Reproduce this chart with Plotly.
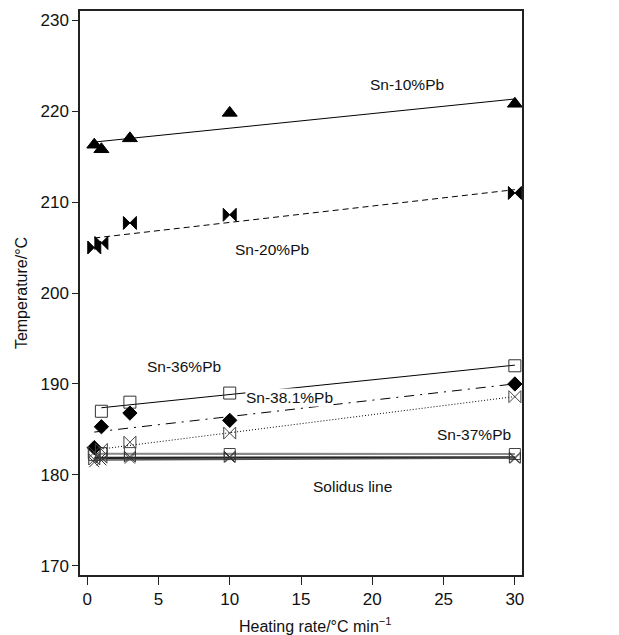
import numpy as np
import plotly.graph_objects as go

# Heating rates (°C/min)
rates = [0.5, 1, 3, 10, 30]

# Liquidus temperatures (°C)
sn10_temp = [216.3, 215.8, 217.0, 219.8, 220.8]
sn20_temp = [205.0, 205.5, 207.7, 208.6, 211.0]
sn36_rates = [1, 3, 10, 30]
sn36_temp = [187.0, 188.0, 189.0, 192.0]
sn381_temp = [183.0, 185.3, 186.8, 186.0, 190.0]
sn37_temp = [182.5, 182.8, 183.6, 184.6, 188.6]

# Solidus temperatures (°C)
sol_a_temp = [182.2, 182.4, 182.4, 182.3, 182.3]
sol_b_temp = [181.7, 181.9, 182.0, 182.0, 181.9]
sol_c_temp = [181.4, 181.6, 181.8, 181.9, 181.8]

# Text labels
labels = ["Sn-10%Pb", "Sn-20%Pb", "Sn-36%Pb", "Sn-38.1%Pb", "Sn-37%Pb", "Solidus line"]
label_x = [22.4, 13.0, 6.8, 14.2, 27.1, 18.6]
label_y = [222.9, 204.8, 191.9, 188.5, 184.4, 178.7]

FONT = "Liberation Sans, Arial, Helvetica, sans-serif"

fig = go.Figure()


def fit_line(xs, ys, dash, color="black", width=1):
    k, b = np.polyfit(xs, ys, 1)
    xx = [min(xs), max(xs)]
    yy = [k * v + b for v in xx]
    fig.add_trace(go.Scatter(x=xx, y=yy, mode="lines",
                             line=dict(color=color, width=width, dash=dash),
                             showlegend=False, hoverinfo="skip"))


def markers(xs, ys, symbol, size, color="black", lw=1):
    fig.add_trace(go.Scatter(x=xs, y=ys, mode="markers",
                             marker=dict(symbol=symbol, size=size, color=color,
                                         line=dict(color=color, width=lw)),
                             showlegend=False))


# solidus lines
fit_line(rates, sol_a_temp, "solid", "#8a8a8a", 2.2)
fit_line(rates, sol_b_temp, "solid", "#222222", 2.2)
fit_line(rates, sol_c_temp, "solid", "#555555", 1.5)
markers(rates, sol_a_temp, "square-open", 11, "#444444")
markers(rates, sol_b_temp, "bowtie-open", 11, "#333333")
markers(rates, sol_c_temp, "x-thin-open", 10, "#333333")

# liquidus lines
fit_line(rates, sn10_temp, "solid")
fit_line(rates, sn20_temp, "6px,4px")
fit_line(sn36_rates, sn36_temp, "solid")
fit_line(rates, sn381_temp, "10px,6px,2px,6px")
fit_line(rates, sn37_temp, "1px,2px")

markers(rates, sn10_temp, "triangle-up", 13)
markers(rates, sn20_temp, "bowtie", 13)
markers(sn36_rates, sn36_temp, "square-open", 12, "#333333")
markers(rates, sn381_temp, "diamond", 11)
markers(rates, sn37_temp, "bowtie-open", 12, "#444444")

for t, x, y in zip(labels, label_x, label_y):
    fig.add_annotation(x=x, y=y, text=t, showarrow=False,
                       font=dict(family=FONT, size=15.5, color="#111111"),
                       bgcolor="white" if t == "Sn-38.1%Pb" else "rgba(0,0,0,0)",
                       borderpad=0)

# x-axis title (slightly right of centre, as in the original)
fig.add_annotation(xref="paper", yref="paper", x=0.532, y=-0.088,
                   text="Heating rate/°C min<sup>−1</sup>", showarrow=False,
                   xanchor="center", yanchor="middle",
                   font=dict(family=FONT, size=16, color="#111111"))

fig.update_layout(
    width=619, height=635,
    margin=dict(l=72, r=105, t=1, b=68),
    paper_bgcolor="white", plot_bgcolor="white",
    font=dict(family=FONT, size=16, color="#111111"),
    xaxis=dict(range=[-0.5, 30.5], tickvals=[0, 5, 10, 15, 20, 25, 30],
               showline=True, linecolor="#222222", linewidth=1.5, mirror=True,
               ticks="outside", ticklen=8, tickcolor="#222222", showgrid=False,
               zeroline=False, tickfont=dict(size=17)),
    yaxis=dict(range=[169, 231], tickvals=[170, 180, 190, 200, 210, 220, 230],
               showline=True, linecolor="#222222", linewidth=1.5, mirror=True,
               ticks="outside", ticklen=6, tickcolor="#222222", showgrid=False,
               zeroline=False, tickfont=dict(size=17),
               title=dict(text="Temperature/°C", standoff=9,
                          font=dict(size=16))),
)

fig.write_html("out.html")
